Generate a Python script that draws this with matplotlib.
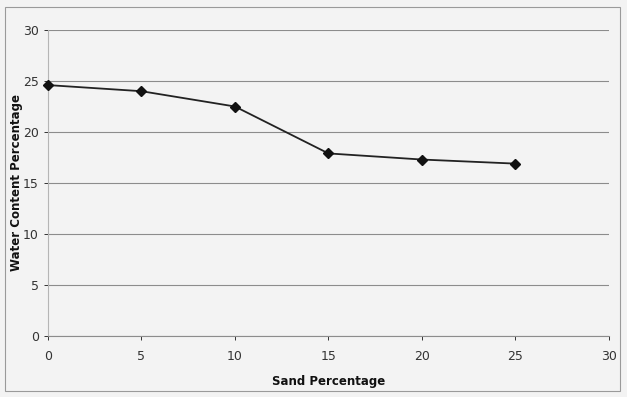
import matplotlib.pyplot as plt
from matplotlib.patches import Rectangle

sand_pct = [0, 5, 10, 15, 20, 25]
water_content = [24.6, 24.0, 22.5, 17.9, 17.3, 16.9]

x_ticks = [0, 5, 10, 15, 20, 25, 30]
y_ticks = [0, 5, 10, 15, 20, 25, 30]

fig = plt.figure(figsize=(6.27, 3.97), dpi=100, facecolor="#f3f3f3")
ax = fig.add_axes([0.0766, 0.1537, 0.8944, 0.7707])
ax.set_facecolor("#f3f3f3")

# chart-area frame
fig.patches.append(Rectangle((0.008, 0.015), 0.981, 0.968, transform=fig.transFigure,
                             fill=False, edgecolor="#9a9a9a", linewidth=0.8))

ax.plot(sand_pct, water_content, color="#222222", linewidth=1.3, clip_on=False, zorder=3,
        marker="D", markersize=5.5, markerfacecolor="#111111", markeredgecolor="#111111")

ax.set_xlim(0, 30)
ax.set_ylim(0, 30)
ax.set_xticks(x_ticks)
ax.set_yticks(y_ticks)
ax.grid(axis="y", color="#8c8c8c", linewidth=0.8)
ax.set_axisbelow(True)

for side in ["top", "right"]:
    ax.spines[side].set_visible(False)
ax.spines["left"].set_color("#b5b5b5")
ax.spines["bottom"].set_color("#8c8c8c")
ax.tick_params(axis="both", labelsize=9, colors="#333333", length=3, width=0.7, direction="out")
ax.tick_params(axis="x", pad=7)

ax.set_xlabel("Sand Percentage", fontsize=8.5, fontweight="bold", color="#111111")
ax.set_ylabel("Water Content Percentage", fontsize=8.5, fontweight="bold", color="#111111")
ax.xaxis.set_label_coords(0.5, -0.128)
ax.yaxis.set_label_coords(-0.044, 0.5)

fig.savefig("out.png", dpi=100, facecolor=fig.get_facecolor())
